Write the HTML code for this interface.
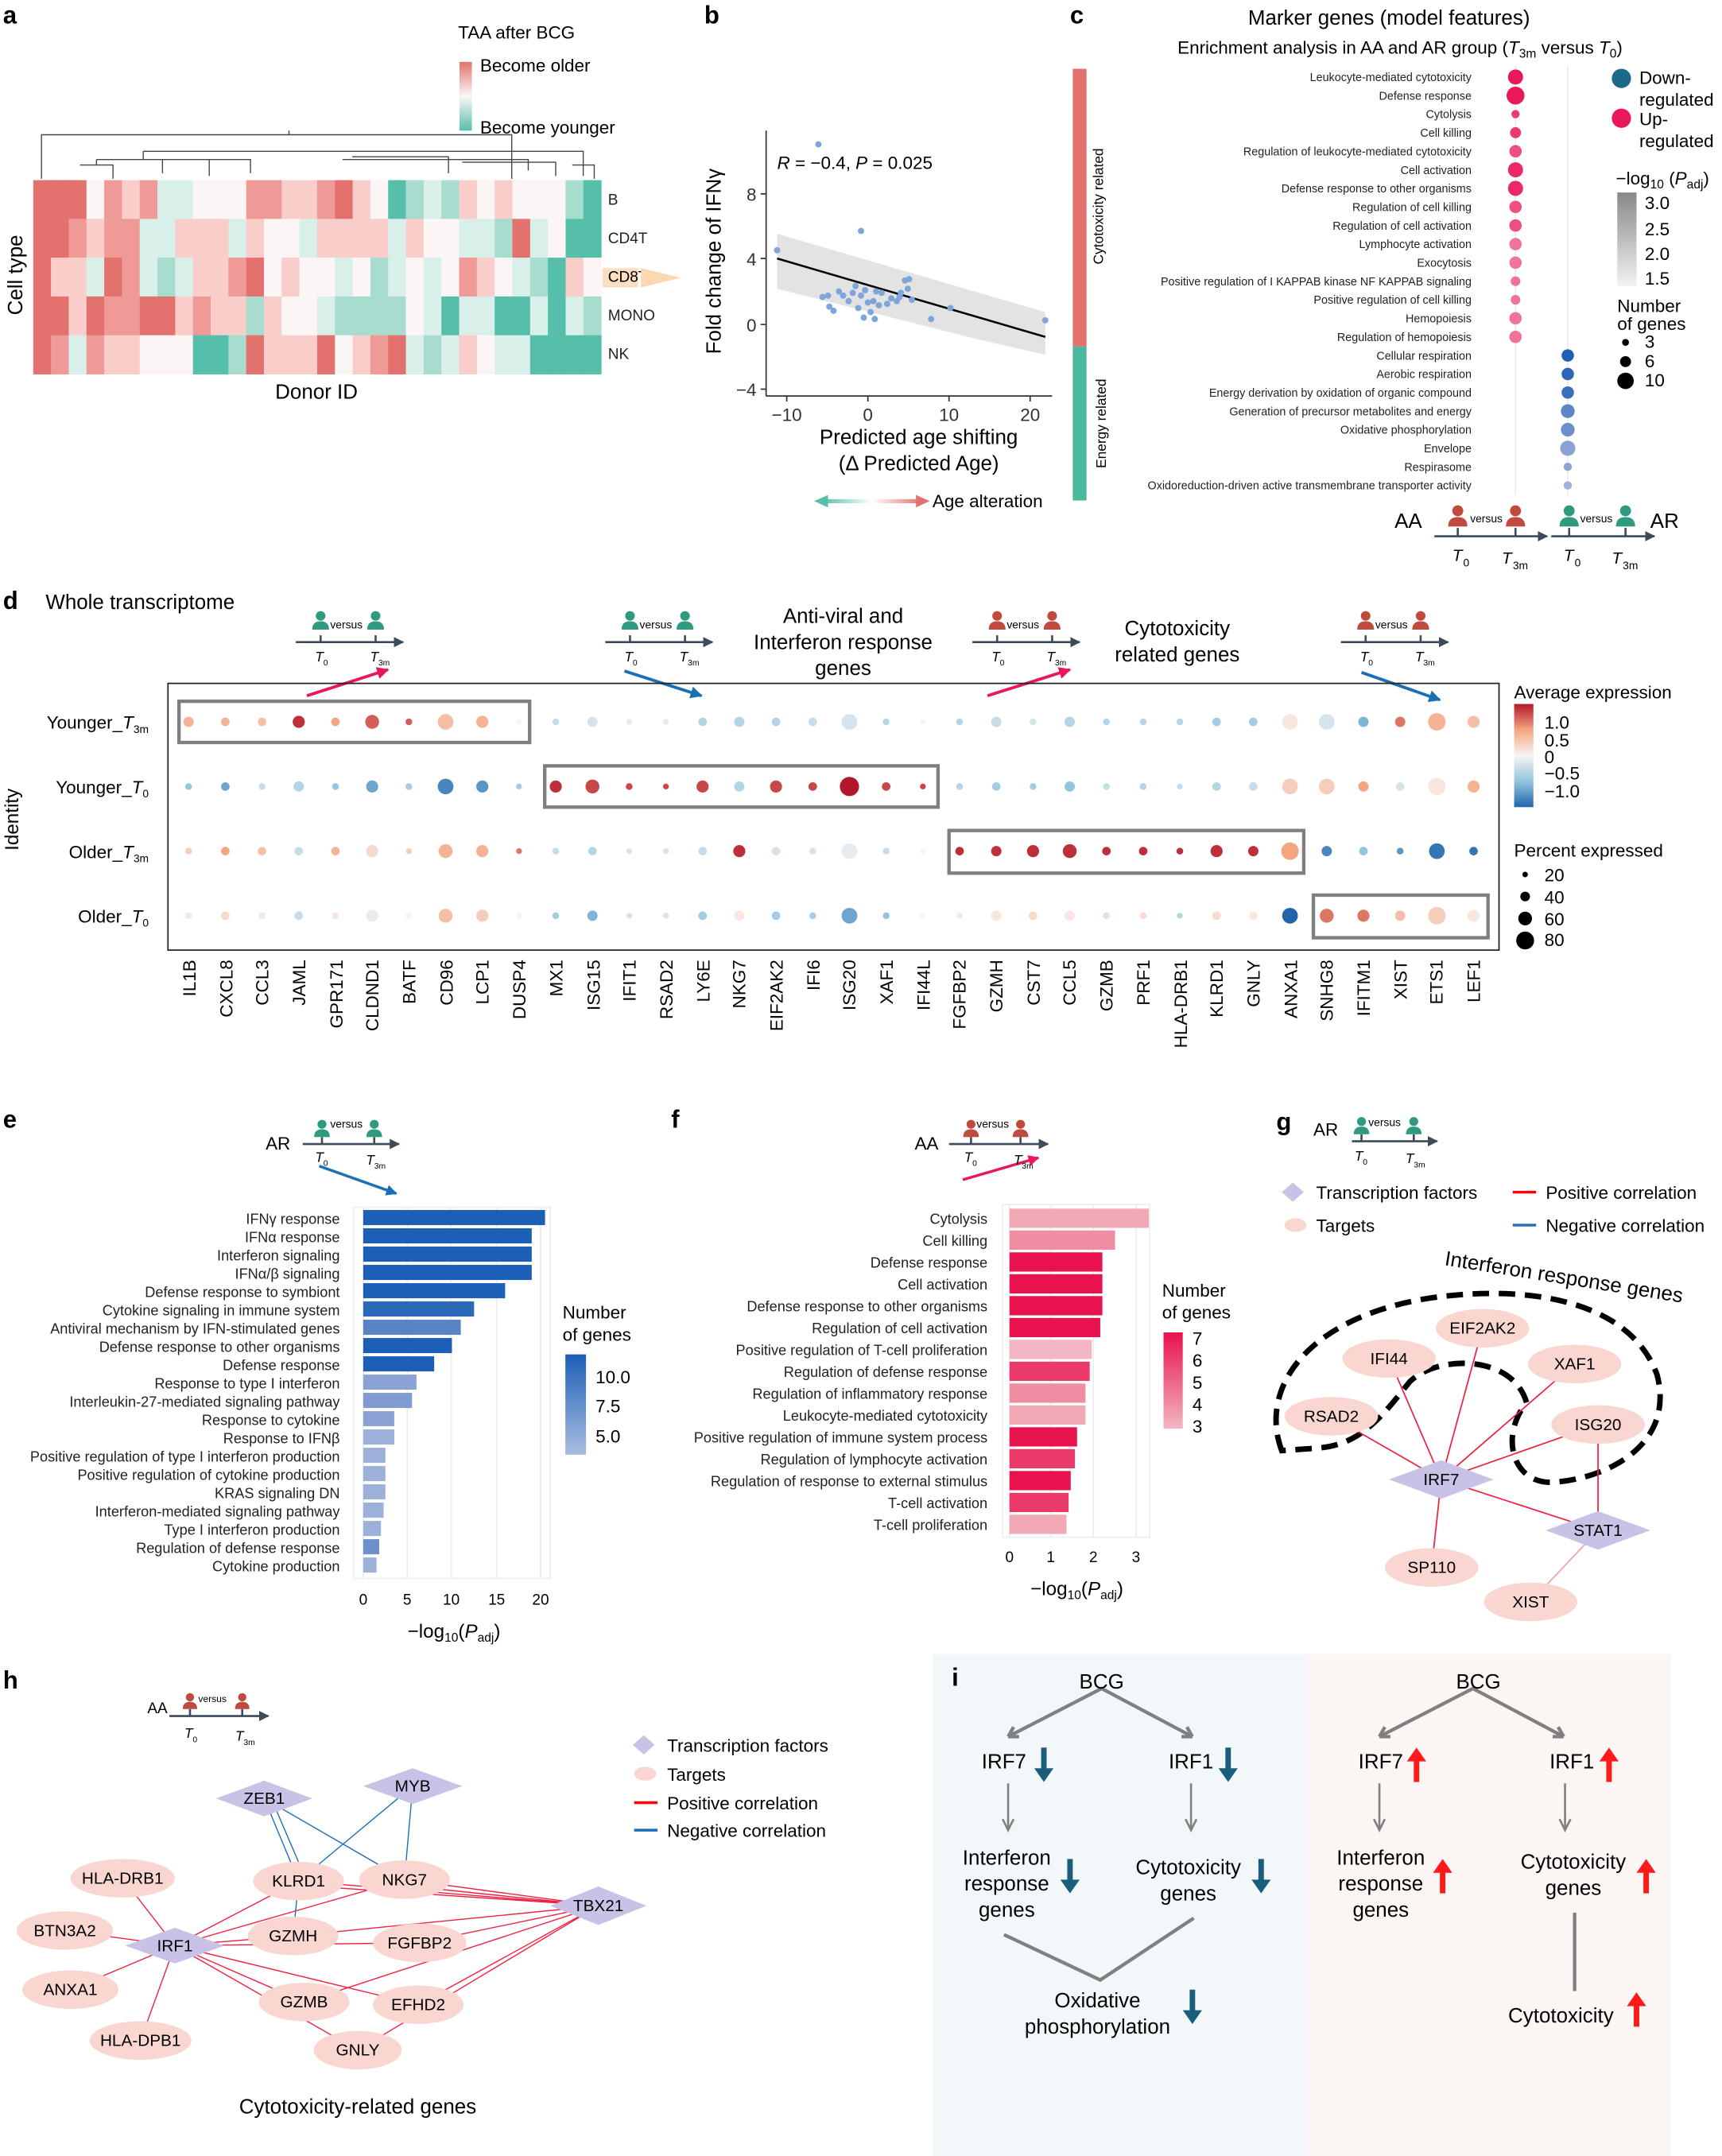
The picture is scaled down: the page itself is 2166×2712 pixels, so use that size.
<!DOCTYPE html>
<html><head><meta charset="utf-8"><style>
html,body{margin:0;padding:0;background:#fff}
svg{display:block;font-family:"Liberation Sans",sans-serif}
</style></head><body>
<svg id="s" width="2166" height="2712" viewBox="0 0 1252 1568" xmlns="http://www.w3.org/2000/svg">
<defs>
<symbol id="pp" viewBox="0 0 16 16"><circle cx="8" cy="4.5" r="4"/><path d="M1 16 Q1 9 8 9 Q15 9 15 16 Z"/></symbol>
<marker id="ag" viewBox="0 0 10 10" refX="9" refY="5" markerWidth="5" markerHeight="5" orient="auto"><path d="M0 0L10 5L0 10Z" fill="#3c4a5c"/></marker>
<marker id="ab" viewBox="0 0 10 10" refX="9" refY="5" markerWidth="4" markerHeight="4" orient="auto"><path d="M0 0L10 5L0 10Z" fill="#1a6fb5"/></marker>
<marker id="ar" viewBox="0 0 10 10" refX="9" refY="5" markerWidth="4" markerHeight="4" orient="auto"><path d="M0 0L10 5L0 10Z" fill="#e8185a"/></marker>
<linearGradient id="gA" x1="0" y1="0" x2="0" y2="1"><stop offset="0" stop-color="#e3726f"/><stop offset=".5" stop-color="#fbf6f5"/><stop offset="1" stop-color="#55bfaa"/></linearGradient>
<linearGradient id="gB" x1="0" y1="0" x2="1" y2="0"><stop offset="0" stop-color="#55bfaa"/><stop offset=".5" stop-color="#fff"/><stop offset="1" stop-color="#e3726f"/></linearGradient>
<linearGradient id="gC" x1="0" y1="0" x2="0" y2="1"><stop offset="0" stop-color="#888"/><stop offset="1" stop-color="#f2f2f2"/></linearGradient>
<linearGradient id="gD" x1="0" y1="0" x2="0" y2="1"><stop offset="0" stop-color="#b2182b"/><stop offset=".25" stop-color="#f4a582"/><stop offset=".5" stop-color="#f7f4f2"/><stop offset=".75" stop-color="#92c5de"/><stop offset="1" stop-color="#2166ac"/></linearGradient>
<linearGradient id="gE" x1="0" y1="0" x2="0" y2="1"><stop offset="0" stop-color="#1c5fb6"/><stop offset="1" stop-color="#a9bde0"/></linearGradient>
<linearGradient id="gF" x1="0" y1="0" x2="0" y2="1"><stop offset="0" stop-color="#e8124f"/><stop offset="1" stop-color="#f2b7c2"/></linearGradient>
</defs>

<g font-size="18" font-weight="bold">
<text x="2" y="17">a</text><text x="512" y="17">b</text><text x="778" y="17">c</text><text x="2" y="443">d</text>
<text x="2" y="820">e</text><text x="488" y="820">f</text><text x="928" y="822">g</text><text x="2" y="1228">h</text>
</g>

<!-- panel a -->
<g id="hm"></g>
<g fill="none" stroke="#444" stroke-width="0.8">
<path d="M30 130V98H372V130M210 98V95M372 98V110M238 110H424V128M424 110V124M104 110H346M104 110V116M70 116H152V128M70 116V120M58 120H82V130M118 116V126M152 116H182V126M249 116H384V124M256 114H326V126M336 118H404V128M416 120H432V130"/>
</g>
<g font-size="11" fill="#222"><text x="442" y="149">B</text><text x="442" y="177">CD4T</text><text x="442" y="233">MONO</text><text x="442" y="261">NK</text></g>
<rect x="438" y="195" width="26" height="14" fill="#fbd7b2" opacity=".8"/><text x="442" y="205" font-size="11">CD8T</text>
<path d="M466 195L495 202L466 209Z" fill="#fbd7b2"/>
<text x="16" y="200" font-size="15" transform="rotate(-90 16 200)" text-anchor="middle">Cell type</text>
<text x="230" y="290" font-size="15" text-anchor="middle">Donor ID</text>
<text x="333" y="28" font-size="13">TAA after BCG</text>
<rect x="334" y="45" width="9" height="50" fill="url(#gA)"/>
<text x="349" y="52" font-size="13">Become older</text><text x="349" y="97" font-size="13">Become younger</text>

<!-- panel b -->
<path d="M565 170L760 227L760 258L712 247L565 210Z" fill="#d9d9d9" opacity=".75"/>
<line x1="565" y1="188" x2="760" y2="245" stroke="#000" stroke-width="1.5"/>
<g id="sc" fill="#7fa6d8"></g>
<g stroke="#333" stroke-width="1" fill="none"><path d="M557 95V288M557 288H765"/>
<path d="M553 141H557M553 188H557M553 236H557M553 283H557M572 288V292M631 288V292M690 288V292M749 288V292"/></g>
<g font-size="13" fill="#333" text-anchor="end"><text x="550" y="146">8</text><text x="550" y="193">4</text><text x="550" y="241">0</text><text x="550" y="288">−4</text></g>
<g font-size="13" fill="#333" text-anchor="middle"><text x="572" y="306">−10</text><text x="631" y="306">0</text><text x="690" y="306">10</text><text x="749" y="306">20</text></g>
<text x="565" y="123" font-size="13"><tspan font-style="italic">R</tspan> = −0.4, <tspan font-style="italic">P</tspan> = 0.025</text>
<text x="524" y="190" font-size="15" transform="rotate(-90 524 190)" text-anchor="middle">Fold change of IFNγ</text>
<text x="668" y="323" font-size="15" text-anchor="middle">Predicted age shifting</text>
<text x="668" y="342" font-size="15" text-anchor="middle">(Δ Predicted Age)</text>
<rect x="598" y="363" width="72" height="3" fill="url(#gB)"/><path d="M592 364.5L602 360V369Z" fill="#55bfaa"/><path d="M676 364.5L666 360V369Z" fill="#e3726f"/>
<text x="678" y="369" font-size="13">Age alteration</text>
<rect x="780" y="50" width="10" height="202" fill="#e3726f"/><rect x="780" y="252" width="10" height="112" fill="#4cb89e"/>
<text x="802" y="150" font-size="10" transform="rotate(-90 802 150)" text-anchor="middle">Cytotoxicity related</text>
<text x="804" y="308" font-size="10" transform="rotate(-90 804 308)" text-anchor="middle">Energy related</text>

<!-- panel c -->
<text x="1010" y="18" font-size="15" text-anchor="middle">Marker genes (model features)</text>
<text x="1018" y="39" font-size="13" text-anchor="middle">Enrichment analysis in AA and AR group (<tspan font-style="italic">T</tspan><tspan font-size="9" dy="3">3m</tspan><tspan dy="-3"> versus </tspan><tspan font-style="italic">T</tspan><tspan font-size="9" dy="3">0</tspan><tspan dy="-3">)</tspan></text>
<g stroke="#ebebeb" stroke-width="1"><line x1="1102" y1="48" x2="1102" y2="360"/><line x1="1140" y1="48" x2="1140" y2="360"/></g>
<g id="cg"></g>
<g font-size="8.3" fill="#222" text-anchor="end">
<text x="1070" y="59">Leukocyte-mediated cytotoxicity</text><text x="1070" y="72.5">Defense response</text><text x="1070" y="86">Cytolysis</text><text x="1070" y="99.5">Cell killing</text><text x="1070" y="113">Regulation of leukocyte-mediated cytotoxicity</text><text x="1070" y="126.5">Cell activation</text><text x="1070" y="140">Defense response to other organisms</text><text x="1070" y="153.5">Regulation of cell killing</text><text x="1070" y="167">Regulation of cell activation</text><text x="1070" y="180.5">Lymphocyte activation</text><text x="1070" y="194">Exocytosis</text><text x="1070" y="207.5">Positive regulation of I KAPPAB kinase NF KAPPAB signaling</text><text x="1070" y="221">Positive regulation of cell killing</text><text x="1070" y="234.5">Hemopoiesis</text><text x="1070" y="248">Regulation of hemopoiesis</text><text x="1070" y="261.5">Cellular respiration</text><text x="1070" y="275">Aerobic respiration</text><text x="1070" y="288.5">Energy derivation by oxidation of organic compound</text><text x="1070" y="302">Generation of precursor metabolites and energy</text><text x="1070" y="315.5">Oxidative phosphorylation</text><text x="1070" y="329">Envelope</text><text x="1070" y="342.5">Respirasome</text><text x="1070" y="356">Oxidoreduction-driven active transmembrane transporter activity</text>
</g>
<circle cx="1179" cy="57" r="7" fill="#1b6a8a"/><text x="1192" y="61" font-size="13">Down-</text><text x="1192" y="77" font-size="13">regulated</text>
<circle cx="1179" cy="86" r="7" fill="#e8185a"/><text x="1192" y="91" font-size="13">Up-</text><text x="1192" y="107" font-size="13">regulated</text>
<text x="1175" y="134" font-size="13">−log<tspan font-size="9" dy="3">10</tspan><tspan dy="-3"> (</tspan><tspan font-style="italic">P</tspan><tspan font-size="9" dy="3">adj</tspan><tspan dy="-3">)</tspan></text>
<rect x="1176" y="140" width="14" height="68" fill="url(#gC)"/>
<g font-size="13"><text x="1196" y="152">3.0</text><text x="1196" y="171">2.5</text><text x="1196" y="189">2.0</text><text x="1196" y="207">1.5</text>
<text x="1176" y="227">Number</text><text x="1176" y="240">of genes</text><text x="1196" y="253">3</text><text x="1196" y="267">6</text><text x="1196" y="281">10</text></g>
<circle cx="1182" cy="249" r="2.5"/><circle cx="1182" cy="263" r="4"/><circle cx="1182" cy="277" r="6"/>
<g stroke="#3c4a5c" stroke-width="1.5"><line x1="1043" y1="390" x2="1125" y2="390" marker-end="url(#ag)"/><line x1="1128" y1="390" x2="1203" y2="390" marker-end="url(#ag)"/>
<path d="M1060 384V390M1102 384V390M1141 384V390M1182 384V390"/></g>
<use href="#pp" x="1052" y="367" width="16" height="16" fill="#c04a3d"/><use href="#pp" x="1094" y="367" width="16" height="16" fill="#c04a3d"/>
<use href="#pp" x="1133" y="367" width="16" height="16" fill="#2e9b7e"/><use href="#pp" x="1174" y="367" width="16" height="16" fill="#2e9b7e"/>
<g font-size="8"><text x="1069" y="380">versus</text><text x="1149" y="380">versus</text></g>
<text x="1014" y="384" font-size="15">AA</text><text x="1200" y="384" font-size="15">AR</text>
<g font-size="12" font-style="italic"><text x="1056" y="408">T</text><text x="1092" y="410">T</text><text x="1137" y="408">T</text><text x="1172" y="410">T</text></g>
<g font-size="8"><text x="1064" y="412">0</text><text x="1100" y="414">3m</text><text x="1145" y="412">0</text><text x="1180" y="414">3m</text></g>

<!-- panel d -->
<text x="33" y="443" font-size="15">Whole transcriptome</text>
<g font-size="15" text-anchor="middle"><text x="613" y="453">Anti-viral and</text><text x="613" y="472">Interferon response</text><text x="613" y="491">genes</text><text x="856" y="462">Cytotoxicity</text><text x="856" y="481">related genes</text></g>
<g id="tl"></g>
<g font-size="8">
<text x="240" y="457">versus</text><text x="465" y="457">versus</text><text x="732" y="457">versus</text><text x="1000" y="457">versus</text>
</g>
<g font-size="10" font-style="italic"><text x="229" y="481">T</text><text x="269" y="481">T</text><text x="454" y="481">T</text><text x="494" y="481">T</text><text x="721" y="481">T</text><text x="761" y="481">T</text><text x="989" y="481">T</text><text x="1029" y="481">T</text></g>
<g font-size="6"><text x="235" y="484">0</text><text x="275" y="484">3m</text><text x="460" y="484">0</text><text x="500" y="484">3m</text><text x="727" y="484">0</text><text x="767" y="484">3m</text><text x="995" y="484">0</text><text x="1035" y="484">3m</text></g>
<rect x="122" y="497" width="968" height="194" fill="none" stroke="#222" stroke-width="1"/>
<g id="dd"></g>
<g fill="none" stroke="#7f7f7f" stroke-width="2.5"><rect x="130" y="510" width="255" height="30"/><rect x="396" y="557" width="286" height="30"/><rect x="690" y="604" width="258" height="31"/><rect x="955" y="651" width="127" height="31"/></g>
<g font-size="13" text-anchor="end"><text x="108" y="530">Younger_<tspan font-style="italic">T</tspan><tspan font-size="8" dy="3">3m</tspan></text><text x="108" y="577">Younger_<tspan font-style="italic">T</tspan><tspan font-size="8" dy="3">0</tspan></text><text x="108" y="624">Older_<tspan font-style="italic">T</tspan><tspan font-size="8" dy="3">3m</tspan></text><text x="108" y="671">Older_<tspan font-style="italic">T</tspan><tspan font-size="8" dy="3">0</tspan></text></g>
<text x="13" y="596" font-size="14" transform="rotate(-90 13 596)" text-anchor="middle">Identity</text>
<g font-size="13" text-anchor="end" id="gn">
<text transform="translate(142 698) rotate(-90)">IL1B</text><text transform="translate(169 698) rotate(-90)">CXCL8</text><text transform="translate(195 698) rotate(-90)">CCL3</text><text transform="translate(222 698) rotate(-90)">JAML</text><text transform="translate(249 698) rotate(-90)">GPR171</text><text transform="translate(275 698) rotate(-90)">CLDND1</text><text transform="translate(302 698) rotate(-90)">BATF</text><text transform="translate(329 698) rotate(-90)">CD96</text><text transform="translate(355 698) rotate(-90)">LCP1</text><text transform="translate(382 698) rotate(-90)">DUSP4</text><text transform="translate(409 698) rotate(-90)">MX1</text><text transform="translate(436 698) rotate(-90)">ISG15</text><text transform="translate(462 698) rotate(-90)">IFIT1</text><text transform="translate(489 698) rotate(-90)">RSAD2</text><text transform="translate(516 698) rotate(-90)">LY6E</text><text transform="translate(542 698) rotate(-90)">NKG7</text><text transform="translate(569 698) rotate(-90)">EIF2AK2</text><text transform="translate(596 698) rotate(-90)">IFI6</text><text transform="translate(622 698) rotate(-90)">ISG20</text><text transform="translate(649 698) rotate(-90)">XAF1</text><text transform="translate(676 698) rotate(-90)">IFI44L</text><text transform="translate(702 698) rotate(-90)">FGFBP2</text><text transform="translate(729 698) rotate(-90)">GZMH</text><text transform="translate(756 698) rotate(-90)">CST7</text><text transform="translate(782 698) rotate(-90)">CCL5</text><text transform="translate(809 698) rotate(-90)">GZMB</text><text transform="translate(836 698) rotate(-90)">PRF1</text><text transform="translate(863 698) rotate(-90)">HLA-DRB1</text><text transform="translate(889 698) rotate(-90)">KLRD1</text><text transform="translate(916 698) rotate(-90)">GNLY</text><text transform="translate(943 698) rotate(-90)">ANXA1</text><text transform="translate(969 698) rotate(-90)">SNHG8</text><text transform="translate(996 698) rotate(-90)">IFITM1</text><text transform="translate(1023 698) rotate(-90)">XIST</text><text transform="translate(1049 698) rotate(-90)">ETS1</text><text transform="translate(1076 698) rotate(-90)">LEF1</text>
</g>
<text x="1101" y="508" font-size="13">Average expression</text>
<rect x="1101" y="512" width="14" height="75" fill="url(#gD)"/>
<g font-size="13"><text x="1123" y="530">1.0</text><text x="1123" y="543">0.5</text><text x="1123" y="555">0</text><text x="1123" y="567">−0.5</text><text x="1123" y="580">−1.0</text>
<text x="1101" y="623" font-size="13">Percent expressed</text><text x="1123" y="641">20</text><text x="1123" y="657">40</text><text x="1123" y="673">60</text><text x="1123" y="688">80</text></g>
<circle cx="1109" cy="636" r="2"/><circle cx="1109" cy="652" r="3.5"/><circle cx="1109" cy="668" r="5"/><circle cx="1109" cy="684" r="6.5"/>

<!-- small timeline labels -->
<g font-size="13"><text x="193" y="836">AR</text><text x="665" y="836">AA</text><text x="955" y="826">AR</text><text x="107" y="1246" font-size="11">AA</text><text x="741" y="1534">AR</text><text x="1019" y="1532">AA</text></g>
<g font-size="8"><text x="240" y="820">versus</text><text x="710" y="820">versus</text><text x="995" y="819">versus</text><text x="144" y="1238" font-size="7">versus</text><text x="792" y="1524" font-size="11">versus</text><text x="1072" y="1522" font-size="11">versus</text></g>
<g font-size="10" font-style="italic"><text x="229" y="845">T</text><text x="266" y="847">T</text><text x="701" y="845">T</text><text x="737" y="847">T</text><text x="985" y="844">T</text><text x="1022" y="846">T</text><text x="134" y="1264">T</text><text x="171" y="1266">T</text><text x="778" y="1556" font-size="13">T</text><text x="826" y="1558" font-size="13">T</text><text x="1057" y="1554" font-size="13">T</text><text x="1105" y="1556" font-size="13">T</text></g>
<g font-size="6"><text x="235" y="848">0</text><text x="272" y="850">3m</text><text x="707" y="848">0</text><text x="743" y="850">3m</text><text x="991" y="847">0</text><text x="1028" y="849">3m</text><text x="140" y="1267">0</text><text x="177" y="1269">3m</text><text x="785" y="1561" font-size="9">0</text><text x="833" y="1563" font-size="9">3m</text><text x="1064" y="1559" font-size="9">0</text><text x="1112" y="1561" font-size="9">3m</text></g>

<!-- panel e -->
<rect x="257" y="878" width="143" height="270" fill="#fff" stroke="#eee"/>
<g stroke="#ececec"><path d="M264 878V1148M296 878V1148M328 878V1148M361 878V1148M393 878V1148"/></g>
<g id="eb"></g>
<g font-size="10.5" text-anchor="end" fill="#222">
<text x="247" y="890">IFNγ response</text><text x="247" y="903.3">IFNα response</text><text x="247" y="916.6">Interferon signaling</text><text x="247" y="929.9">IFNα/β signaling</text><text x="247" y="943.2">Defense response to symbiont</text><text x="247" y="956.5">Cytokine signaling in immune system</text><text x="247" y="969.8">Antiviral mechanism by IFN-stimulated genes</text><text x="247" y="983.1">Defense response to other organisms</text><text x="247" y="996.4">Defense response</text><text x="247" y="1009.7">Response to type I interferon</text><text x="247" y="1023">Interleukin-27-mediated signaling pathway</text><text x="247" y="1036.3">Response to cytokine</text><text x="247" y="1049.6">Response to IFNβ</text><text x="247" y="1062.9">Positive regulation of type I interferon production</text><text x="247" y="1076.2">Positive regulation of cytokine production</text><text x="247" y="1089.5">KRAS signaling DN</text><text x="247" y="1102.8">Interferon-mediated signaling pathway</text><text x="247" y="1116.1">Type I interferon production</text><text x="247" y="1129.4">Regulation of defense response</text><text x="247" y="1142.7">Cytokine production</text>
</g>
<g font-size="11" text-anchor="middle"><text x="264" y="1167">0</text><text x="296" y="1167">5</text><text x="328" y="1167">10</text><text x="361" y="1167">15</text><text x="393" y="1167">20</text></g>
<text x="330" y="1191" font-size="14" text-anchor="middle">−log<tspan font-size="9" dy="3">10</tspan><tspan dy="-3">(</tspan><tspan font-style="italic">P</tspan><tspan font-size="9" dy="3">adj</tspan><tspan dy="-3">)</tspan></text>
<text x="409" y="959" font-size="13">Number</text><text x="409" y="975" font-size="13">of genes</text>
<rect x="411" y="985" width="15" height="73" fill="url(#gE)"/>
<g font-size="13"><text x="433" y="1006">10.0</text><text x="433" y="1027">7.5</text><text x="433" y="1049">5.0</text></g>

<!-- panel f -->
<rect x="729" y="876" width="107" height="242" fill="#fff" stroke="#eee"/>
<g stroke="#ececec"><path d="M734 876V1118M764 876V1118M795 876V1118M826 876V1118"/></g>
<g id="fb"></g>
<g font-size="10.5" text-anchor="end" fill="#222">
<text x="718" y="890">Cytolysis</text><text x="718" y="905.9">Cell killing</text><text x="718" y="921.8">Defense response</text><text x="718" y="937.7">Cell activation</text><text x="718" y="953.6">Defense response to other organisms</text><text x="718" y="969.5">Regulation of cell activation</text><text x="718" y="985.4">Positive regulation of T-cell proliferation</text><text x="718" y="1001.3">Regulation of defense response</text><text x="718" y="1017.2">Regulation of inflammatory response</text><text x="718" y="1033.1">Leukocyte-mediated cytotoxicity</text><text x="718" y="1049">Positive regulation of immune system process</text><text x="718" y="1064.9">Regulation of lymphocyte activation</text><text x="718" y="1080.8">Regulation of response to external stimulus</text><text x="718" y="1096.7">T-cell activation</text><text x="718" y="1112.6">T-cell proliferation</text>
</g>
<g font-size="11" text-anchor="middle"><text x="734" y="1136">0</text><text x="764" y="1136">1</text><text x="795" y="1136">2</text><text x="826" y="1136">3</text></g>
<text x="783" y="1160" font-size="14" text-anchor="middle">−log<tspan font-size="9" dy="3">10</tspan><tspan dy="-3">(</tspan><tspan font-style="italic">P</tspan><tspan font-size="9" dy="3">adj</tspan><tspan dy="-3">)</tspan></text>
<text x="845" y="943" font-size="13">Number</text><text x="845" y="959" font-size="13">of genes</text>
<rect x="846" y="969" width="14" height="70" fill="url(#gF)"/>
<g font-size="13"><text x="867" y="978">7</text><text x="867" y="994">6</text><text x="867" y="1010">5</text><text x="867" y="1026">4</text><text x="867" y="1042">3</text></g>

<!-- panel g -->
<g font-size="13"><path d="M932 867L940 860L948 867L940 874Z" fill="#c9c2e6"/><text x="957" y="872">Transcription factors</text>
<ellipse cx="942" cy="891" rx="8" ry="5" fill="#f9d6cf"/><text x="957" y="896">Targets</text>
<line x1="1100" y1="867" x2="1117" y2="867" stroke="#f00" stroke-width="2"/><text x="1124" y="872">Positive correlation</text>
<line x1="1100" y1="891" x2="1117" y2="891" stroke="#1a6fb5" stroke-width="2"/><text x="1124" y="896">Negative correlation</text></g>
<text x="1050" y="920" font-size="15" transform="rotate(9 1050 920)">Interferon response genes</text>
<g fill="none" stroke="#000" stroke-width="4" stroke-dasharray="12 7">
<path d="M932 1055C915 1010 950 958 1040 944C1110 934 1185 945 1205 1000C1218 1050 1170 1075 1130 1078C1100 1080 1090 1045 1110 1020C1100 985 1045 985 1025 1005C1005 1030 990 1050 960 1053Z"/>
</g>
<g stroke="#f02040" stroke-width="1">
<path d="M1048 1076L968 1030M1048 1076L1010 988M1048 1076L1078 966M1048 1076L1145 992M1048 1076L1162 1036M1048 1076L1162 1113M1162 1113L1162 1036M1048 1076L1041 1140"/></g>
<line x1="1162" y1="1113" x2="1113" y2="1165" stroke="#f4a0a8"/>
<g fill="#f9d6cf"><ellipse cx="1078" cy="966" rx="34" ry="14"/><ellipse cx="1010" cy="988" rx="34" ry="14"/><ellipse cx="1145" cy="992" rx="34" ry="14"/><ellipse cx="968" cy="1030" rx="34" ry="14"/><ellipse cx="1162" cy="1036" rx="34" ry="14"/><ellipse cx="1041" cy="1140" rx="34" ry="14"/><ellipse cx="1113" cy="1165" rx="34" ry="14"/></g>
<g fill="#c9c2e6"><path d="M1010 1076L1048 1062L1086 1076L1048 1090Z"/><path d="M1124 1113L1162 1099L1200 1113L1162 1127Z"/></g>
<g font-size="12" text-anchor="middle"><text x="1078" y="970">EIF2AK2</text><text x="1010" y="992">IFI44</text><text x="1145" y="996">XAF1</text><text x="968" y="1034">RSAD2</text><text x="1162" y="1040">ISG20</text><text x="1048" y="1080">IRF7</text><text x="1162" y="1117">STAT1</text><text x="1041" y="1144">SP110</text><text x="1113" y="1169">XIST</text></g>

<!-- panel h -->
<g stroke="#f02040" stroke-width="0.8">
<path d="M127 1415L217 1368M127 1415L294 1367M127 1415L213 1408M127 1415L305 1413M127 1415L221 1456M127 1415L304 1458M127 1415L260 1491M127 1415L89 1366M127 1415L47 1404M127 1415L51 1447M127 1415L102 1484M435 1386L217 1368M435 1386L294 1367M435 1386L213 1408M435 1386L305 1413M435 1386L221 1456M435 1386L304 1458M435 1386L260 1491M435 1386L230 1372M435 1386L300 1372"/></g>
<g stroke="#1a6fb5" stroke-width="0.8"><path d="M192 1308L217 1368M192 1308L294 1367M300 1299L217 1368M300 1299L294 1367M198 1310L222 1366M217 1368L213 1408"/></g>
<g fill="#f9d6cf"><ellipse cx="217" cy="1368" rx="33" ry="14"/><ellipse cx="294" cy="1367" rx="33" ry="14"/><ellipse cx="213" cy="1408" rx="33" ry="14"/><ellipse cx="305" cy="1413" rx="34" ry="14"/><ellipse cx="221" cy="1456" rx="33" ry="14"/><ellipse cx="304" cy="1458" rx="33" ry="14"/><ellipse cx="260" cy="1491" rx="32" ry="14"/><ellipse cx="89" cy="1366" rx="38" ry="14"/><ellipse cx="47" cy="1404" rx="35" ry="14"/><ellipse cx="51" cy="1447" rx="35" ry="14"/><ellipse cx="102" cy="1484" rx="37" ry="14"/></g>
<g fill="#c9c2e6"><path d="M157 1308L192 1295L227 1308L192 1321Z"/><path d="M264 1299L300 1286L336 1299L300 1312Z"/><path d="M91 1415L127 1402L163 1415L127 1428Z"/><path d="M400 1386L435 1372L470 1386L435 1400Z"/></g>
<g font-size="12" text-anchor="middle"><text x="217" y="1372">KLRD1</text><text x="294" y="1371">NKG7</text><text x="213" y="1412">GZMH</text><text x="305" y="1417">FGFBP2</text><text x="221" y="1460">GZMB</text><text x="304" y="1462">EFHD2</text><text x="260" y="1495">GNLY</text><text x="89" y="1370">HLA-DRB1</text><text x="47" y="1408">BTN3A2</text><text x="51" y="1451">ANXA1</text><text x="102" y="1488">HLA-DPB1</text><text x="192" y="1312">ZEB1</text><text x="300" y="1303">MYB</text><text x="127" y="1419">IRF1</text><text x="435" y="1390">TBX21</text></g>
<text x="260" y="1537" font-size="15" text-anchor="middle">Cytotoxicity-related genes</text>
<g font-size="13"><path d="M460 1269L468 1262L476 1269L468 1276Z" fill="#c9c2e6"/><text x="485" y="1274">Transcription factors</text>
<ellipse cx="469" cy="1290" rx="8" ry="5" fill="#f9d6cf"/><text x="485" y="1295">Targets</text>
<line x1="461" y1="1311" x2="478" y2="1311" stroke="#f00" stroke-width="2"/><text x="485" y="1316">Positive correlation</text>
<line x1="461" y1="1331" x2="478" y2="1331" stroke="#1a6fb5" stroke-width="2"/><text x="485" y="1336">Negative correlation</text></g>

<!-- panel i -->
<rect x="678" y="1203" width="272" height="365" fill="#f2f8fa"/><rect x="950" y="1203" width="265" height="365" fill="#fbf5f3"/>
<text x="692" y="1226" font-size="18" font-weight="bold">i</text>
<g fill="none" stroke="#808080" stroke-width="2.5">
<path d="M733 1263L801 1228L867 1263" /><path d="M1003 1263L1071 1228L1137 1263"/>
<path d="M733 1263l8 0M733 1263l4 -7M867 1263l-8 0M867 1263l-4 -7M1003 1263l8 0M1003 1263l4 -7M1137 1263l-8 0M1137 1263l-4 -7"/>
<path d="M730 1407L800 1440L868 1395"/><path d="M1145 1391V1448"/></g>
<g stroke="#808080" stroke-width="1.5" fill="none"><path d="M733 1297V1330M866 1297V1330M1003 1297V1330M1138 1297V1330"/>
<path d="M729 1323L733 1331L737 1323M862 1323L866 1331L870 1323M999 1323L1003 1331L1007 1323M1134 1323L1138 1331L1142 1323"/></g>
<g font-size="15" text-anchor="middle"><text x="801" y="1228">BCG</text><text x="1075" y="1228">BCG</text>
<text x="730" y="1286">IRF7</text><text x="866" y="1286">IRF1</text><text x="1004" y="1286">IRF7</text><text x="1143" y="1286">IRF1</text>
<text x="732" y="1356">Interferon</text><text x="732" y="1375">response</text><text x="732" y="1394">genes</text>
<text x="864" y="1363">Cytotoxicity</text><text x="864" y="1382">genes</text>
<text x="798" y="1460">Oxidative</text><text x="798" y="1479">phosphorylation</text>
<text x="1004" y="1356">Interferon</text><text x="1004" y="1375">response</text><text x="1004" y="1394">genes</text>
<text x="1144" y="1359">Cytotoxicity</text><text x="1144" y="1378">genes</text><text x="1135" y="1471">Cytotoxicity</text></g>
<g fill="#1b5e7b"><path d="M757 1271h4v15h5l-7 10l-7-10h5z"/><path d="M891 1271h4v15h5l-7 10l-7-10h5z"/><path d="M776 1352h4v15h5l-7 10l-7-10h5z"/><path d="M915 1352h4v15h5l-7 10l-7-10h5z"/><path d="M865 1447h4v15h5l-7 10l-7-10h5z"/></g>
<g fill="#ff1a1a"><path d="M1028 1296h4v-15h5l-7-10l-7 10h5z"/><path d="M1168 1296h4v-15h5l-7-10l-7 10h5z"/><path d="M1047 1377h4v-15h5l-7-10l-7 10h5z"/><path d="M1195 1377h4v-15h5l-7-10l-7 10h5z"/><path d="M1188 1474h4v-15h5l-7-10l-7 10h5z"/></g>
</svg>
<script>
(function(){
var NS="http://www.w3.org/2000/svg";
function el(p,t,a){var e=document.createElementNS(NS,t);for(var k in a)e.setAttribute(k,a[k]);p.appendChild(e);return e;}
function $(i){return document.getElementById(i);}
var C={R:"#e3726f",r:"#ef9a97",p:"#f9cdca",w:"#fbf6f5",t:"#d9efea",g:"#a8dccf",G:"#55bfaa"};
var rows=["RRRwrprttwwwrrpprRpwGgtgpwpwwwgG","RRrprrttppptpwwtpppptpwwttgRtwGG","RpptRrtgtpprRwpwwtwgtwtwrpwtgGpw","RRpRrrRRprppgpwwtggggwtGttGGtGtg","RrtrppwwwGGgRpppRwprRtgtpwttGGGG"];
var hm=$("hm"),x0=24,cw=(437-24)/32;
rows.forEach(function(r,i){for(var j=0;j<32;j++){el(hm,"rect",{x:x0+j*cw,y:131+i*28.2,width:cw+0.3,height:28.5,fill:C[r[j]]||"#fbf6f5"});}});
var pts=[[565,182],[595,105],[626,168],[598,216],[603,223],[610,212],[613,215],[617,219],[620,213],[622,208],[624,224],[626,215],[629,211],[631,220],[633,227],[635,219],[637,212],[639,222],[641,213],[645,221],[648,217],[652,219],[655,213],[658,204],[660,210],[661,203],[663,218],[677,232],[691,224],[760,233],[602,215],[606,226],[628,231],[636,232],[654,216]];
pts.forEach(function(p){el($("sc"),"circle",{cx:p[0],cy:p[1],r:2.3});});
var cg=$("cg");
var cr=[5.5,6.5,3,4,4.5,5.5,5.5,4.5,4.5,4.5,4.5,3.5,3.5,4.5,4.5];
var ca=["#e8185a","#e8185a","#ec3a72","#ec3a72","#ee4f7e","#ea2a66","#ea2a66","#ee4f7e","#ee4f7e","#f07398","#f07398","#f07398","#f07398","#f07398","#f07398"];
for(var i=0;i<15;i++)el(cg,"circle",{cx:1102,cy:56+i*13.5,r:cr[i],fill:ca[i]});
var br=[4.5,4.5,4.5,5,5,5.5,3,3],bc=["#1f5fb5","#2d66b8","#3a6fbc","#5e86c6","#6d8fcb","#8aa3d4","#8aa3d4","#9db2dc"];
for(var i=0;i<8;i++)el(cg,"circle",{cx:1140,cy:56+(15+i)*13.5,r:br[i],fill:bc[i]});
var tl=$("tl");
[[215,"#2e9b7e"],[440,"#2e9b7e"],[707,"#c04a3d"],[975,"#c04a3d"]].forEach(function(t){var x=t[0];
 el(tl,"line",{x1:x,y1:467,x2:x+78,y2:467,stroke:"#3c4a5c","stroke-width":1.5,"marker-end":"url(#ag)"});
 el(tl,"path",{d:"M"+(x+18)+" 462V467M"+(x+58)+" 462V467",stroke:"#3c4a5c","stroke-width":1.5});
 el(tl,"use",{href:"#pp",x:x+11,y:444,width:14,height:14,fill:t[1]});el(tl,"use",{href:"#pp",x:x+51,y:444,width:14,height:14,fill:t[1]});});
el(tl,"line",{x1:223,y1:506,x2:282,y2:487,stroke:"#e8185a","stroke-width":2.2,"marker-end":"url(#ar)"});
el(tl,"line",{x1:454,y1:488,x2:510,y2:506,stroke:"#1a6fb5","stroke-width":2.2,"marker-end":"url(#ab)"});
el(tl,"line",{x1:718,y1:506,x2:778,y2:487,stroke:"#e8185a","stroke-width":2.2,"marker-end":"url(#ar)"});
el(tl,"line",{x1:990,y1:489,x2:1047,y2:509,stroke:"#1a6fb5","stroke-width":2.2,"marker-end":"url(#ab)"});
function stl(x,y,len,c,p1,p2,s){el(tl,"line",{x1:x,y1:y,x2:x+len,y2:y,stroke:"#3c4a5c","stroke-width":1.5,"marker-end":"url(#ag)"});
 el(tl,"path",{d:"M"+p1+" "+(y-5)+"V"+y+"M"+p2+" "+(y-5)+"V"+y,stroke:"#3c4a5c","stroke-width":1.5});
 el(tl,"use",{href:"#pp",x:p1-s/2,y:y-5-s,width:s,height:s,fill:c});el(tl,"use",{href:"#pp",x:p2-s/2,y:y-5-s,width:s,height:s,fill:c});}
stl(220,832,70,"#2e9b7e",234,272,13);stl(690,832,72,"#c04a3d",706,742,13);stl(983,830,62,"#2e9b7e",990,1028,13);
stl(123,1248,72,"#c04a3d",138,176,12);stl(762,1538,100,"#2e9b7e",784,833,16);stl(1040,1536,102,"#c04a3d",1064,1114,16);
el(tl,"line",{x1:232,y1:848,x2:288,y2:868,stroke:"#1a6fb5","stroke-width":2,"marker-end":"url(#ab)"});
el(tl,"line",{x1:700,y1:858,x2:755,y2:842,stroke:"#e8185a","stroke-width":2,"marker-end":"url(#ar)"});
function lerp(a,b,t){return a.map(function(v,i){return Math.round(v+(b[i]-v)*t);});}
function col(v){var W=[247,244,242],R1=[244,165,130],R2=[178,24,43],B1=[146,197,222],B2=[33,102,172],c;
 if(v>=0){c=v<0.6?lerp(W,R1,v/0.6):lerp(R1,R2,Math.min(1,(v-0.6)/0.6));}else{v=-v;c=v<0.6?lerp(W,B1,v/0.6):lerp(B1,B2,Math.min(1,(v-0.6)/0.6));}
 return "rgb("+c.join(",")+")";}
var D=[
[[.5,.3],[.5,.2],[.4,.2],[1.1,.4],[.6,.2],[.9,.5],[.9,.1],[.4,.6],[.5,.4],[0,.05],[-.3,.1],[-.2,.3],[-.1,.05],[-.1,.05],[-.4,.2],[-.4,.3],[-.4,.2],[-.3,.2],[-.2,.6],[-.4,.1],[0,.05],[-.4,.1],[-.3,.3],[-.2,.1],[-.4,.3],[-.4,.1],[-.4,.1],[-.4,.1],[-.5,.2],[-.5,.2],[.1,.6],[-.2,.6],[-.7,.3],[.8,.3],[.5,.7],[.4,.4]],
[[-.6,.1],[-.8,.2],[-.3,.1],[-.4,.3],[-.6,.1],[-.8,.4],[-.5,.1],[-1,.6],[-.9,.4],[-.5,.05],[1.1,.4],[1,.5],[1,.1],[1,.05],[1,.4],[-.4,.3],[1,.4],[1,.2],[1.2,.8],[1,.2],[1,.05],[-.4,.1],[-.5,.2],[-.5,.1],[-.6,.3],[-.3,.1],[-.4,.1],[-.3,.05],[-.4,.2],[-.3,.2],[.3,.6],[.3,.6],[.6,.3],[-.2,.2],[.1,.7],[.5,.4]],
[[.3,.1],[.6,.2],[.4,.2],[-.3,.2],[.5,.2],[.2,.4],[.3,.05],[.5,.5],[.5,.4],[.8,.05],[-.3,.1],[-.4,.2],[-.2,.05],[-.2,.05],[-.3,.2],[1.1,.4],[-.2,.2],[-.2,.1],[-.1,.6],[-.3,.1],[0,.05],[1.1,.2],[1.1,.3],[1.1,.4],[1.1,.5],[1.1,.2],[1.1,.2],[1.1,.1],[1.1,.4],[1.1,.3],[.6,.7],[-1,.3],[-.6,.2],[-.9,.1],[-1.1,.6],[-1.1,.2]],
[[.1,.1],[.2,.2],[.1,.1],[-.3,.2],[.1,.1],[-.1,.4],[0,.1],[.4,.5],[.3,.4],[0,.05],[-.5,.1],[-.7,.3],[-.2,.05],[-.2,.05],[-.5,.2],[.1,.3],[-.5,.2],[-.5,.1],[-.8,.6],[-.6,.1],[0,.05],[.1,.05],[.1,.3],[.2,.2],[.1,.3],[.2,.1],[.2,.1],[-.4,.05],[.2,.2],[.1,.2],[-1.2,.6],[.8,.5],[.8,.4],[.4,.3],[.3,.7],[.1,.4]]];
var dd=$("dd");
D.forEach(function(r,i){r.forEach(function(d,j){el(dd,"circle",{cx:137+j*26.7,cy:525+i*47,r:1.8+d[1]*6.5,fill:col(d[0])});});});
var ev=[20.5,19,19,19,16,12.5,11,10,8,6,5.5,3.5,3.5,2.5,2.5,2.5,2.3,2,1.8,1.5];
var ec=["#1c5fb6","#1c5fb6","#1c5fb6","#1c5fb6","#1c5fb6","#2a68ba","#5a83c6","#1c5fb6","#1c5fb6","#8aa3d4","#7f9bd0","#8aa3d4","#9cb0da","#9cb0da","#9cb0da","#9cb0da","#9cb0da","#9cb0da","#6d8fcb","#9cb0da"];
ev.forEach(function(v,i){el($("eb"),"rect",{x:264,y:880+i*13.3,width:v*6.45,height:11,fill:ec[i]});});
var fv=[3.3,2.5,2.2,2.2,2.2,2.15,1.95,1.9,1.8,1.8,1.6,1.55,1.45,1.4,1.35];
var fc=["#f2a9b6","#ef8ea2","#e8124f","#e8124f","#e8124f","#e8124f","#f2b7c2","#ea3a6a","#ef8ea2","#f2a9b6","#e8124f","#ea3a6a","#e8124f","#ea3a6a","#f2a9b6"];
fv.forEach(function(v,i){el($("fb"),"rect",{x:734,y:879+i*15.9,width:v*30.7,height:14,fill:fc[i]});});
})();
</script>
</body></html>
